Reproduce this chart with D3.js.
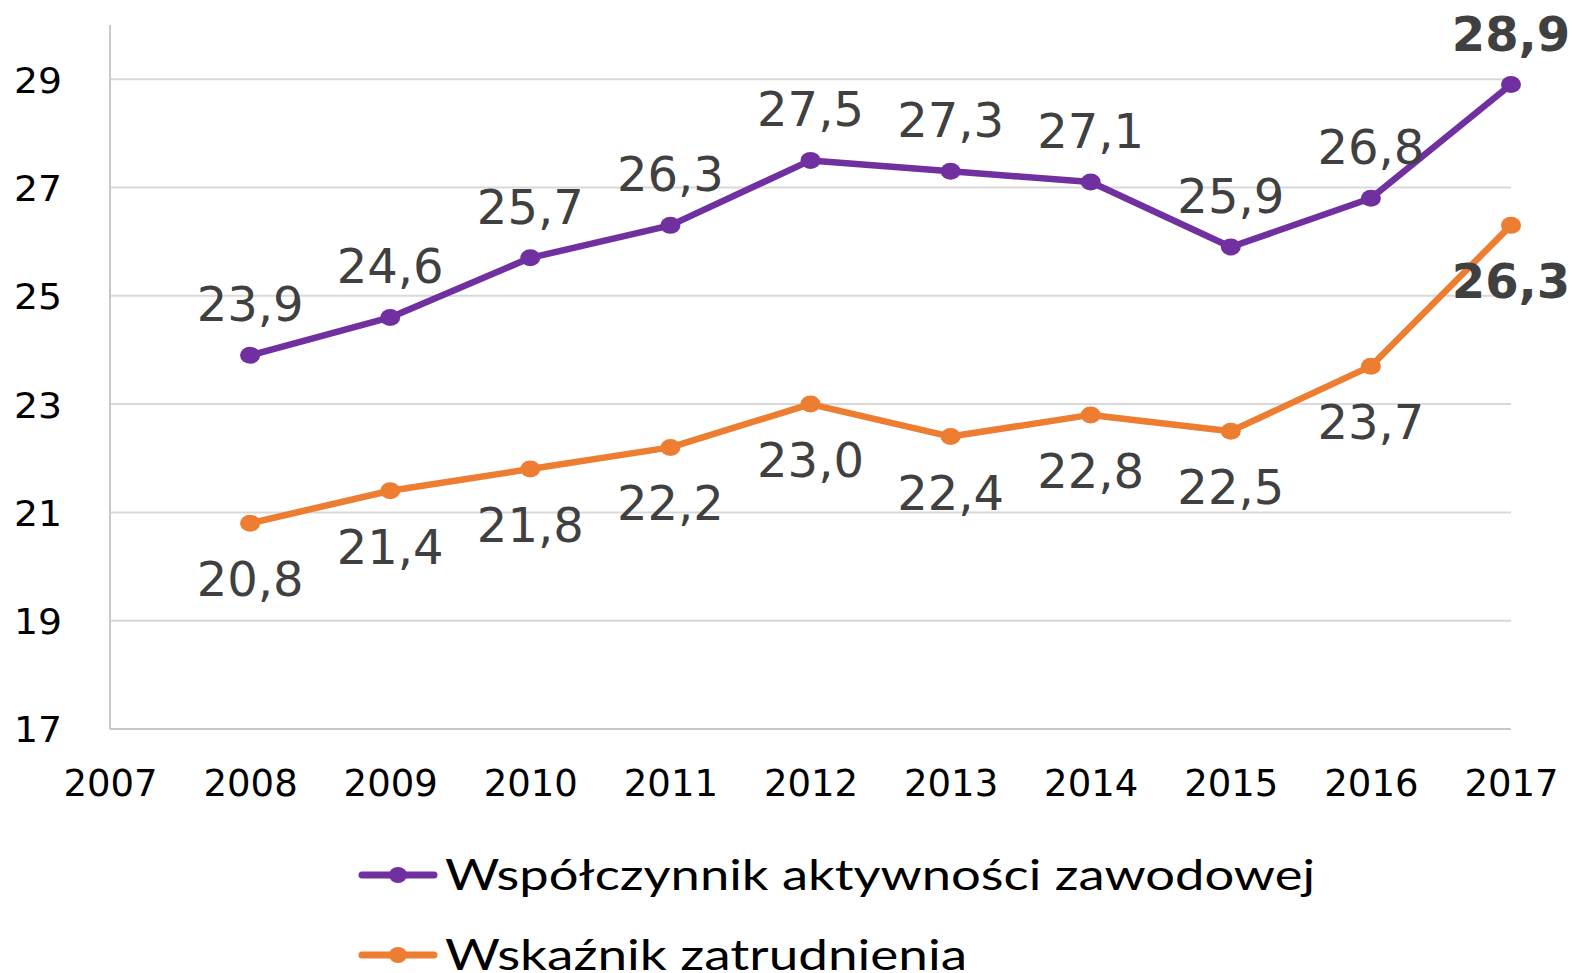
<!DOCTYPE html>
<html><head><meta charset="utf-8">
<script src="https://cdn.jsdelivr.net/npm/d3@7/dist/d3.min.js"></script>
<style>body{margin:0;background:#fff}svg{display:block}</style>
</head><body>
<svg id="c" width="1575" height="973"></svg>
<script>
const years = [2008,2009,2010,2011,2012,2013,2014,2015,2016,2017];
const activity = [23.9,24.6,25.7,26.3,27.5,27.3,27.1,25.9,26.8,28.9];
const employment = [20.8,21.4,21.8,22.2,23.0,22.4,22.8,22.5,23.7,26.3];
const xTicks = [2007,2008,2009,2010,2011,2012,2013,2014,2015,2016,2017];
const yTicks = [17,19,21,23,25,27,29];
const seriesNames = ["Współczynnik aktywności zawodowej","Wskaźnik zatrudnienia"];

const svg = d3.select("#c");
const x = d3.scaleLinear().domain([2007,2017]).range([110,1511]);
const y = d3.scaleLinear().domain([17,30]).range([729,25]);
const fmt = v => d3.format(".1f")(v).replace(".", ",");

// gridlines
svg.append("g").selectAll("line").data(yTicks.filter(t=>t>17)).join("line")
  .attr("x1",x(2007)).attr("x2",x(2017)).attr("y1",d=>y(d)).attr("y2",d=>y(d))
  .attr("stroke","#d9d9d9").attr("stroke-width",2);
// axes lines
svg.append("line").attr("x1",x(2007)).attr("x2",x(2017)).attr("y1",y(17)).attr("y2",y(17))
  .attr("stroke","#c8c8c8").attr("stroke-width",2);
svg.append("line").attr("x1",x(2007)).attr("x2",x(2007)).attr("y1",y(30)).attr("y2",y(17))
  .attr("stroke","#c8c8c8").attr("stroke-width",2);

// y axis
const yAxis = d3.axisLeft(y).tickValues(yTicks).tickSize(0).tickPadding(0).tickFormat(d=>d);
const gy = svg.append("g").attr("transform","translate(62,0)").call(yAxis);
gy.select(".domain").remove();
gy.selectAll("text").attr("font-family","DejaVu Sans").attr("font-size",36).attr("fill","#000")
  .attr("dy","0.36em").attr("textLength",48).attr("lengthAdjust","spacingAndGlyphs");

// x axis
const xAxis = d3.axisBottom(x).tickValues(xTicks).tickSize(0).tickPadding(0).tickFormat(d=>d);
const gx = svg.append("g").attr("transform","translate(0,796)").call(xAxis);
gx.select(".domain").remove();
gx.selectAll("text").attr("font-family","DejaVu Sans").attr("font-size",37).attr("fill","#000")
  .attr("dy","0");

const series = [
  {vals: activity, color:"#7030a0", dy:-34},
  {vals: employment, color:"#ed7d31", dy:73}
];
const line = d3.line().x(d=>x(d[0])).y(d=>y(d[1]));
series.forEach(s=>{
  const pts = years.map((yr,i)=>[yr,s.vals[i]]);
  svg.append("path").datum(pts).attr("d",line).attr("fill","none")
    .attr("stroke",s.color).attr("stroke-width",6.5).attr("stroke-linejoin","round").attr("stroke-linecap","round");
  svg.append("g").selectAll("ellipse").data(pts).join("ellipse")
    .attr("cx",d=>x(d[0])).attr("cy",d=>y(d[1])).attr("rx",10).attr("ry",8.5).attr("fill",s.color);
  svg.append("g").selectAll("text").data(pts).join("text")
    .attr("x",d=>x(d[0]))
    .attr("y",d=>y(d[1])+s.dy)
    .attr("text-anchor","middle")
    .attr("font-family","DejaVu Sans")
    .attr("font-size",48)
    .attr("font-weight",(d,i)=> i===years.length-1 ? "bold" : "normal")
    .attr("fill","#404040")
    .text(d=>fmt(d[1]));
});

// legend
const leg = svg.append("g");
[{c:"#7030a0",y:875},{c:"#ed7d31",y:955}].forEach((l,i)=>{
  leg.append("line").attr("x1",362).attr("x2",434).attr("y1",l.y).attr("y2",l.y)
    .attr("stroke",l.c).attr("stroke-width",7).attr("stroke-linecap","round");
  leg.append("ellipse").attr("cx",398).attr("cy",l.y).attr("rx",9).attr("ry",8).attr("fill",l.c);
  leg.append("text").attr("x",445).attr("y",l.y+15)
    .attr("font-family","Lato").attr("font-size",42).attr("fill","#000")
    .attr("textLength", i===0 ? 870 : 522).attr("lengthAdjust","spacingAndGlyphs")
    .text(seriesNames[i]);
});
</script>
</body></html>
